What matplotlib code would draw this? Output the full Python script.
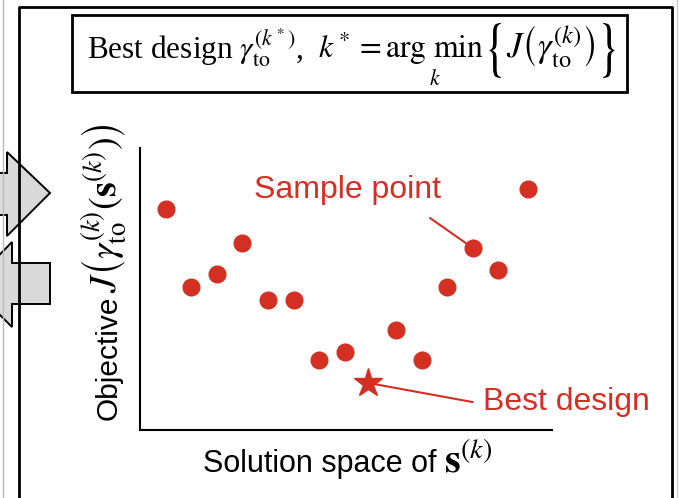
"""Schematic: sample points in solution space, best design picked by argmin."""
import matplotlib

matplotlib.use("Agg")
import matplotlib.pyplot as plt  # noqa: E402
from matplotlib.font_manager import FontProperties  # noqa: E402
from matplotlib.patches import PathPatch, Polygon, Rectangle  # noqa: E402
from matplotlib.textpath import TextPath  # noqa: E402
from matplotlib.transforms import Affine2D  # noqa: E402

plt.rcParams["mathtext.fontset"] = "stix"

# sample points (solution-space position, objective value)
sample_x = [1, 2, 3, 4, 5, 6, 7, 8, 10, 11, 12, 13, 14, 15.15]
sample_j = [8.63, 5.59, 6.09, 7.30, 5.08, 5.08, 2.73, 3.05, 3.91, 2.73, 5.59, 7.11, 6.25, 9.41]
best_x = [8.9]
best_j = [1.84]
labelled_sample = 11  # index of the point the "Sample point" label points at

RED = "#d42f23"
W, H = 679, 498
SERIF = "Liberation Serif"
SANS = "Liberation Sans"

fig = plt.figure(figsize=(W / 100, H / 100), dpi=100, facecolor="white")

# decoration layer in pixel coordinates (frame, arrows, title box, labels)
deco = fig.add_axes([0, 0, 1, 1], zorder=0)
deco.set_xlim(0, W)
deco.set_ylim(H, 0)
deco.set_axis_off()


def big_brace(ch, x, y_mid, width, height):
    # tall, narrow brace like LaTeX's \Big\{ -- mathtext can't size it freely
    tp = TextPath((0, 0), ch, size=30, prop=FontProperties(family="STIXGeneral"))
    ext = tp.get_extents()
    tr = (Affine2D().translate(-ext.x0, -(ext.y0 + ext.y1) / 2)
          .scale(width / ext.width, -height / ext.height).translate(x, y_mid))
    deco.add_patch(PathPatch(tr.transform_path(tp), facecolor="black", lw=0))


deco.add_patch(Polygon([(-5, 173), (7, 173), (7, 152), (50, 193), (7, 236), (7, 215), (-5, 215)],
                       closed=True, facecolor="#d9d9d9", edgecolor="black", lw=1.4))
deco.add_patch(Polygon([(50, 263), (12, 263), (12, 242), (-30, 285), (12, 327), (12, 304), (50, 304)],
                       closed=True, facecolor="#d9d9d9", edgecolor="black", lw=1.4))
deco.plot([3, 3], [0, H], color="#bbbbbb", lw=1)
deco.plot([677, 677], [0, H], color="#cccccc", lw=1)
deco.plot([19, 19, 672, 672], [H + 5, 7, 7, H + 5], color="black", lw=2, clip_on=False)

# title box, built from pieces so spacing and brace size follow the original
deco.add_patch(Rectangle((72, 15), 555, 77, facecolor="white", edgecolor="black", lw=2))
deco.text(87, 58, r"Best design $\gamma_{\mathrm{to}}^{(k^*)}$,", family=SERIF,
          fontsize=22.5, ha="left", va="baseline")
deco.text(318, 58, r"$k^* = \underset{k}{\mathrm{arg\ min}}$",
          fontsize=22.8, ha="left", va="baseline")
big_brace("{", 489, 50.5, 12, 55)
deco.text(506, 58, r"$J\left(\gamma_{\mathrm{to}}^{(k)}\right)$",
          fontsize=25, ha="left", va="baseline")
big_brace("}", 603, 50.5, 12, 55)

# axis labels
deco.text(117, 420, "Objective", family=SANS, fontsize=21.5, rotation=90,
          rotation_mode="anchor", ha="left", va="baseline")
deco.text(117, 293, r"$J\left(\gamma_{\mathrm{to}}^{(k)}\left(\mathbf{s}^{(k)}\right)\right)$",
          fontsize=27.5, rotation=90, rotation_mode="anchor", ha="left", va="baseline")
deco.text(203, 472, "Solution space of", family=SANS, fontsize=22, ha="left", va="baseline")
deco.text(444, 472, r"$\mathbf{s}^{(k)}$", fontsize=29, ha="left", va="baseline")

# the chart itself
ax = fig.add_axes([140 / W, 1 - 430 / H, 412 / W, 282 / H], zorder=1)
ax.patch.set_alpha(0)
ax.set_xlim(0, 412 / 25.6)
ax.set_ylim(0, 282 / 25.6)
ax.set_xticks([])
ax.set_yticks([])
for side in ("top", "right"):
    ax.spines[side].set_visible(False)
for side in ("left", "bottom"):
    ax.spines[side].set_linewidth(1.5)

ax.plot(sample_x, sample_j, "o", color=RED, markersize=12, zorder=3)
ax.plot(best_x, best_j, "*", color=RED, markersize=21, zorder=3)

ax.annotate("", xy=(sample_x[labelled_sample], sample_j[labelled_sample]),
            xytext=(11.33, 8.28),
            arrowprops=dict(arrowstyle="-", color=RED, lw=1.5, shrinkA=0, shrinkB=4))
ax.text(8.09, 9.38, "Sample point", color=RED, fontsize=23,
        family=SANS, ha="center", va="center")
ax.annotate("", xy=(best_x[0], best_j[0]), xytext=(13.0, 1.09),
            arrowprops=dict(arrowstyle="-", color=RED, lw=1.5, shrinkA=0, shrinkB=5))
ax.text(13.4, 1.09, "Best design", color=RED, fontsize=23,
        family=SANS, ha="left", va="center", clip_on=False)

fig.savefig("out.png", dpi=100, facecolor="white")
